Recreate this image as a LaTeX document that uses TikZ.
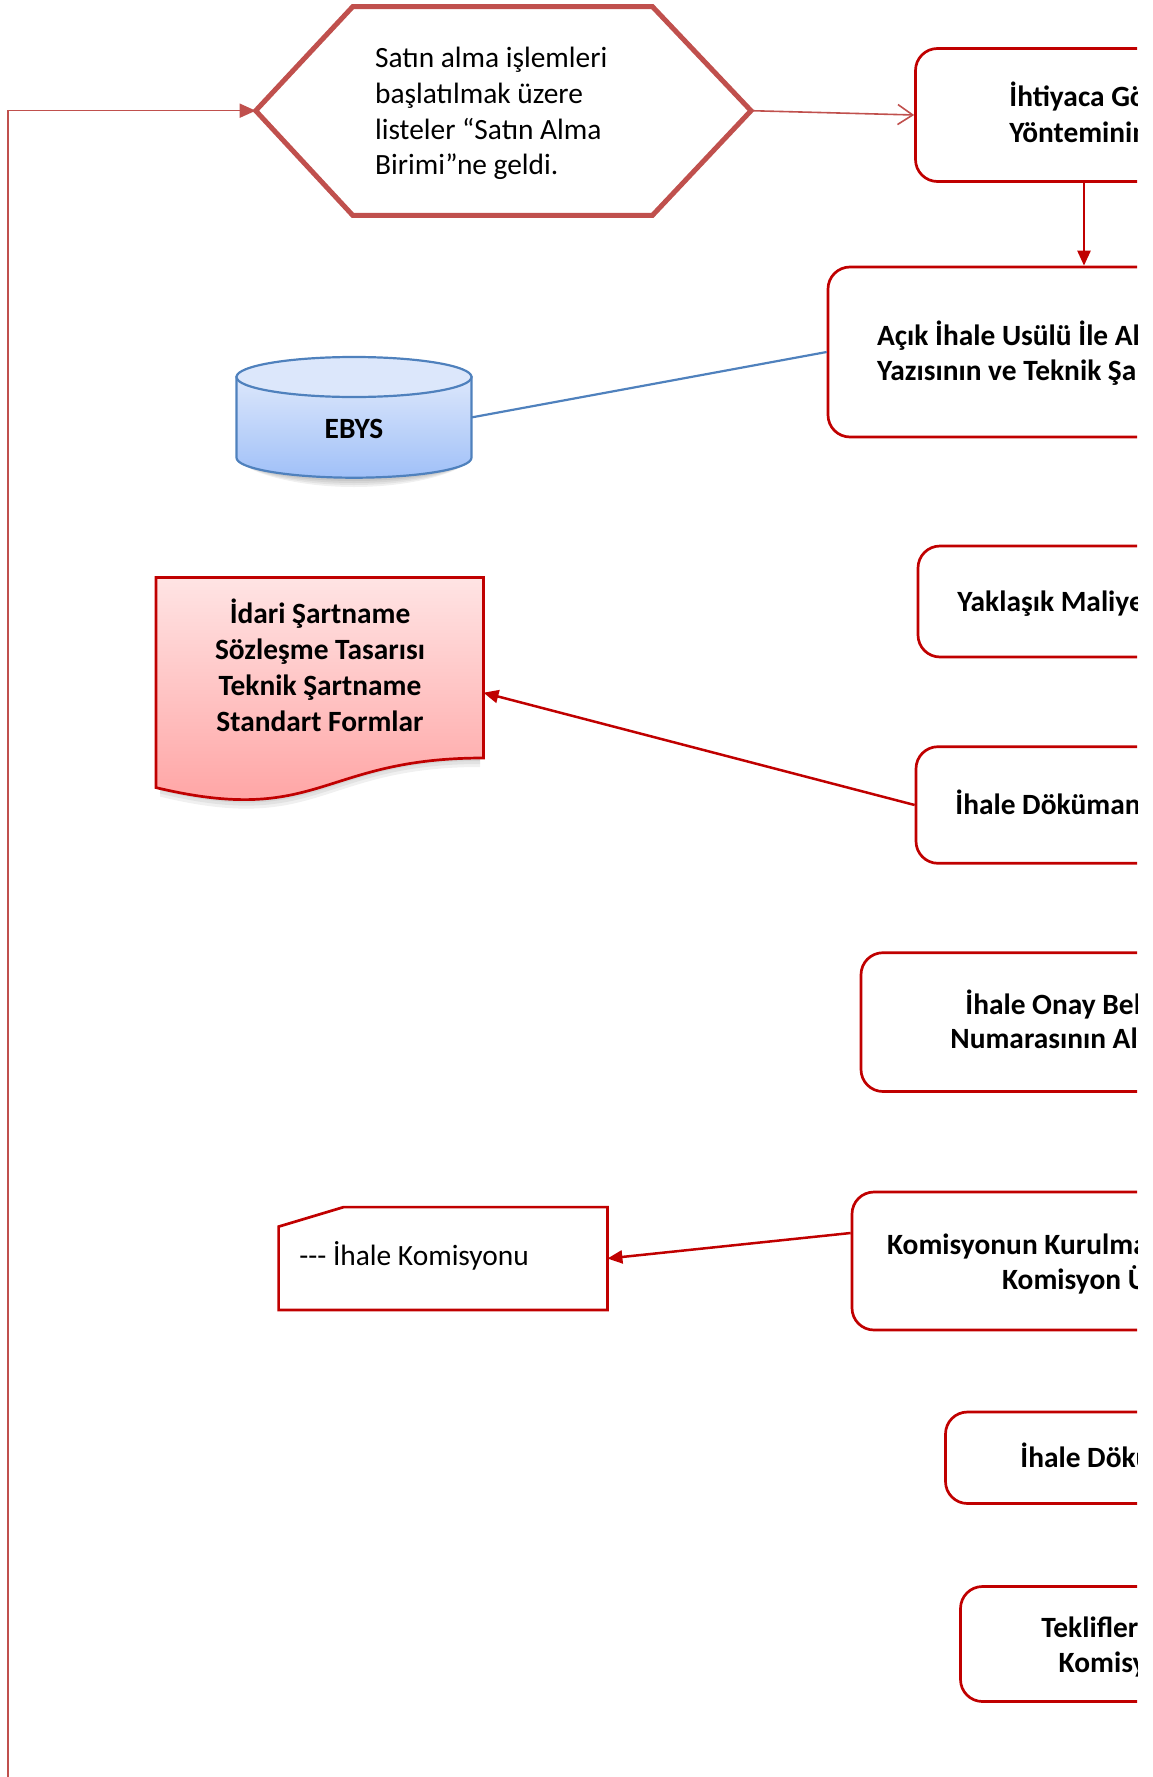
\documentclass[tikz,border=0pt]{standalone}
\usepackage{fontspec}
\setmainfont{Carlito}
\usetikzlibrary{arrows.meta}
\definecolor{boxred}{HTML}{C00000}
\definecolor{hexred}{HTML}{C0504D}
\definecolor{ebysblue}{HTML}{4F81BD}
\definecolor{cyltop}{HTML}{DCE7FB}
\definecolor{cylbot}{HTML}{A0C0F8}
\definecolor{doctop}{HTML}{FFE4E4}
\definecolor{docbot}{HTML}{FF9E9E}
\newcommand\dgreg{\fontsize{14.7pt}{17.5pt}\selectfont}
\newcommand\dgbold{\fontsize{14.7pt}{17.5pt}\selectfont\bfseries}
\begin{document}
\begin{tikzpicture}[x=0.5pt,y=-0.5pt,
  procbox/.style={draw=boxred, line width=1.35pt, rounded corners=11pt, inner sep=0pt},
  tlreg/.style={anchor=base west, inner sep=0pt, font=\dgreg},
  tlbold/.style={anchor=base west, inner sep=0pt, font=\dgbold},
  tcbold/.style={anchor=base, inner sep=0pt, font=\dgbold},
  thinred/.style={draw=hexred, line width=0.8pt},
  boldarrow/.style={draw=boxred, line width=1.25pt, -{Triangle[length=7.5pt,width=6.5pt]}},
  hexline/.style={draw=hexred, line width=2.5pt, line join=miter},
  shadowlayer/.style={fill=black, opacity=0.06}
]
\useasboundingbox (0,0) rectangle (1152,1777);
\begin{scope}
\clip (0,0) rectangle (1137,1777);

% ---------- hexagon ----------
\draw[hexline] (352.7,6.7) -- (652.5,6.7) -- (751,110.7) -- (652.5,215.3) -- (352.7,215.3) -- (255.7,110.7) -- cycle;
\coordinate (hexL) at (255.7,110.7);
\coordinate (hexR) at (751,110.7);
\node[tlreg] (hex1) at (374.7,67.5) {Satın alma işlemleri};
\node[tlreg] (hex2) at (374.7,103.3) {başlatılmak üzere};
\node[tlreg] (hex3) at (374.7,139.1) {listeler “Satın Alma};
\node[tlreg] (hex4) at (374.7,174.9) {Birimi”ne geldi.};

% ---------- process boxes ----------
\node[procbox, minimum width=168.5pt, minimum height=66.5pt] (box1) at (1084,115) {};
\node[procbox, minimum width=256pt, minimum height=85pt] (box2) at (1084,352) {};
\node[procbox, minimum width=166pt, minimum height=55.5pt] (box3) at (1084,601.5) {};
\node[procbox, minimum width=168pt, minimum height=58.3pt] (box4) at (1084,805) {};
\node[procbox, minimum width=223pt, minimum height=69.4pt] (box5) at (1084,1022.1) {};
\node[procbox, minimum width=232pt, minimum height=69pt] (box6) at (1084,1261) {};
\node[procbox, minimum width=138.5pt, minimum height=45.75pt] (box7) at (1084,1457.75) {};
\node[procbox, minimum width=123.5pt, minimum height=57.5pt] (box8) at (1084,1644) {};

\node[tlbold] (b1a) at (1009,107) {İhtiyaca Gö};
\node[tlbold] (b1b) at (1009,142) {Yönteminin};
\node[tlbold] (b2a) at (876.7,345) {Açık İhale Usülü İle Al};
\node[tlbold] (b2b) at (876.7,380) {Yazısının ve Teknik Şa};
\node[tlbold] (b3a) at (957,611) {Yaklaşık Maliye};
\node[tlbold] (b4a) at (955,814.5) {İhale Döküman};
\node[tlbold] (b5a) at (965,1014) {İhale Onay Bel};
\node[tlbold] (b5b) at (950,1048) {Numarasının Al};
\node[tlbold] (b6a) at (886.7,1254) {Komisyonun Kurulma};
\node[tlbold] (b6b) at (1001.7,1289) {Komisyon Ü};
\node[tlbold] (b7a) at (1020,1467) {İhale Dökü};
\node[tlbold] (b8a) at (1041,1637.5) {Teklifler};
\node[tlbold] (b8b) at (1058.3,1672) {Komisy};

% ---------- EBYS cylinder ----------
\foreach \s in {3,5,7,9}{
  \fill[shadowlayer] (238,457.7) .. controls (238,469) and (289.1,{478+\s}) .. (354,{478+\s}) .. controls (418.9,{478+\s}) and (470,469) .. (470,457.7) -- cycle;
}
\path[top color=cyltop, bottom color=cylbot, draw=ebysblue, line width=1.1pt]
  (236.5,377) -- (236.5,457.7)
  .. controls (236.5,468.7) and (289.1,477.7) .. (354,477.7)
  .. controls (418.9,477.7) and (471.5,468.7) .. (471.5,457.7)
  -- (471.5,377) -- cycle;
\draw[ebysblue, line width=1.1pt, fill=cyltop] (354,377) ellipse [x radius=58.75pt, y radius=10pt];
\node[minimum width=117.5pt, minimum height=40.35pt, inner sep=0pt] (ebys) at (354,417.35) {};
\node[tcbold] (ebyst) at (354,438) {EBYS};

% ---------- document shape ----------
\foreach \s in {3,6,9}{
  \fill[shadowlayer] (160,{700+\s}) -- (480,{700+\s}) -- (480,{758+\s}) .. controls (320,{758+\s}) and (320,{826.7+\s}) .. (160,{787.6+\s}) -- cycle;
}
\path[top color=doctop, bottom color=docbot, draw=boxred, line width=1.35pt, line join=miter]
  (156,577.5) -- (483.5,577.5) -- (483.5,758)
  .. controls (320,758) and (320,826.7) .. (156,787.6) -- cycle;
\coordinate (docR) at (483.5,692.7);
\node[tcbold] (d1) at (320,623.3) {İdari Şartname};
\node[tcbold] (d2) at (320,659.3) {Sözleşme Tasarısı};
\node[tcbold] (d3) at (320,695.3) {Teknik Şartname};
\node[tcbold] (d4) at (320,731.3) {Standart Formlar};

% ---------- note shape ----------
\node[minimum width=164pt, minimum height=51pt, inner sep=0pt] (note) at (443,1258.5) {};
\draw[draw=boxred, line width=1.35pt, line join=miter]
  (note.south west) -- ([yshift=-9.75pt]note.north west) -- ([xshift=32.5pt]note.north west)
  -- (note.north east) -- (note.south east) -- cycle;
\node[tlreg] (notet) at (299,1265) {-{}-{}- İhale Komisyonu};

% ---------- connectors ----------
\coordinate (fbStart) at (8,1800);
\draw[thinred, -{Triangle[length=8pt,width=7pt]}] (fbStart) -- (fbStart |- hexL) -- (hexL);
\draw[thinred, -{Straight Barb[length=7.5pt,width=10pt]}] (hexR) -- (box1.west);
\draw[boldarrow] (box1.south) -- (box1.south |- box2.north);
\draw[ebysblue, line width=1.1pt] (ebys.east) -- (box2.west);
\draw[boldarrow] (box4.west) -- (docR);
\draw[boldarrow] ([yshift=14pt]box6.west) -- (note.east);
\end{scope}
\end{tikzpicture}
\end{document}
